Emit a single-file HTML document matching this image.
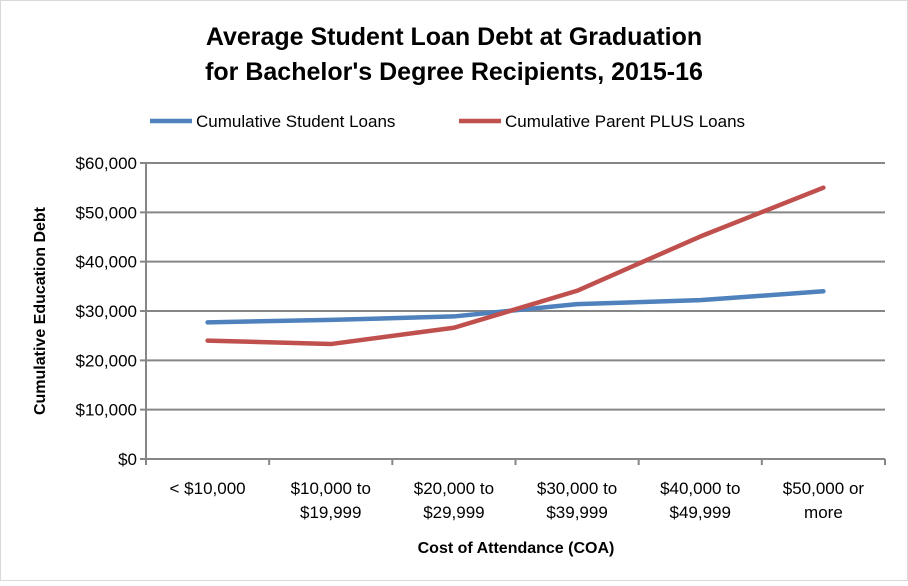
<!DOCTYPE html>
<html><head><meta charset="utf-8"><style>
html,body{margin:0;padding:0;background:#fff}
svg text{font-family:"Liberation Sans",sans-serif}
</style></head><body>
<svg id="chart" width="908" height="581" viewBox="0 0 908 581">
<rect x="0.5" y="0.5" width="907" height="580" fill="#fff" stroke="#d9d9d9"/>
<text x="454" y="45" text-anchor="middle" font-size="25" font-weight="bold" fill="#000">Average Student Loan Debt at Graduation</text>
<text x="454" y="80" text-anchor="middle" font-size="25" font-weight="bold" fill="#000">for Bachelor's Degree Recipients, 2015-16</text>
<g>
<line x1="150" y1="121" x2="192" y2="121" stroke="#4f81bd" stroke-width="4.5"/>
<text x="196" y="127" font-size="17" fill="#000">Cumulative Student Loans</text>
<line x1="459" y1="121" x2="501" y2="121" stroke="#c0504d" stroke-width="4.5"/>
<text x="505" y="127" font-size="17" fill="#000">Cumulative Parent PLUS Loans</text>
</g>
<g id="grid"></g>
<g id="axes"></g>
<g id="series"></g>
<text transform="translate(45,311) rotate(-90)" text-anchor="middle" font-size="16" font-weight="bold">Cumulative Education Debt</text>
<text x="516" y="553" text-anchor="middle" font-size="16" font-weight="bold">Cost of Attendance (COA)</text>
</svg>
<script>
const categories=[["< $10,000"],["$10,000 to","$19,999"],["$20,000 to","$29,999"],["$30,000 to","$39,999"],["$40,000 to","$49,999"],["$50,000 or","more"]];
const studentLoans=[27700,28200,28900,31400,32200,34000];
const parentPlus=[24000,23300,26600,34100,45100,55000];
const yTicks=[0,10000,20000,30000,40000,50000,60000];
const yTickLabels=["$0","$10,000","$20,000","$30,000","$40,000","$50,000","$60,000"];
const NS="http://www.w3.org/2000/svg";
const X0=146,X1=885,Y0=459,Y1=163,YMAX=60000;
const yS=v=>Y0-(v/YMAX)*(Y0-Y1);
const band=(X1-X0)/categories.length;
const xS=i=>X0+band*(i+0.5);
function mk(t,a,p){const e=document.createElementNS(NS,t);for(const k in a)e.setAttribute(k,a[k]);p.appendChild(e);return e;}
const grid=document.getElementById('grid'),axes=document.getElementById('axes'),series=document.getElementById('series');
yTicks.forEach((v,i)=>{
  const y=yS(v);
  const l=mk('line',{x1:X0-6,x2:X1,y1:y,y2:y,stroke:'#868686','stroke-width':2},grid);
  
  
  const t=mk('text',{x:X0-9,y:y+6,'text-anchor':'end','font-size':17},axes);
  t.textContent=yTickLabels[i];
  
  
});
const ya=mk('line',{x1:X0,x2:X0,y1:Y1,y2:Y0,stroke:'#868686','stroke-width':2},axes);


for(let i=0;i<=categories.length;i++){
  const x=X0+band*i;
  const tk=mk('line',{x1:x,x2:x,y1:Y0,y2:Y0+6,stroke:'#868686','stroke-width':2},axes);
  
  
}
categories.forEach((c,i)=>{
  c.forEach((s,j)=>{
    const t=mk('text',{x:xS(i),y:494+j*24,'text-anchor':'middle','font-size':17},axes);
    t.textContent=s;
    
    
  });
});
function line(vals,color,name){
  const p=mk('polyline',{points:vals.map((v,i)=>xS(i)+','+yS(v)).join(' '),fill:'none',stroke:color,'stroke-width':4.5,'stroke-linejoin':'round','stroke-linecap':'round'},series);
  
  
}
line(studentLoans,'#4f81bd','student-loans-line');
line(parentPlus,'#c0504d','parent-plus-line');
</script>
</body></html>
